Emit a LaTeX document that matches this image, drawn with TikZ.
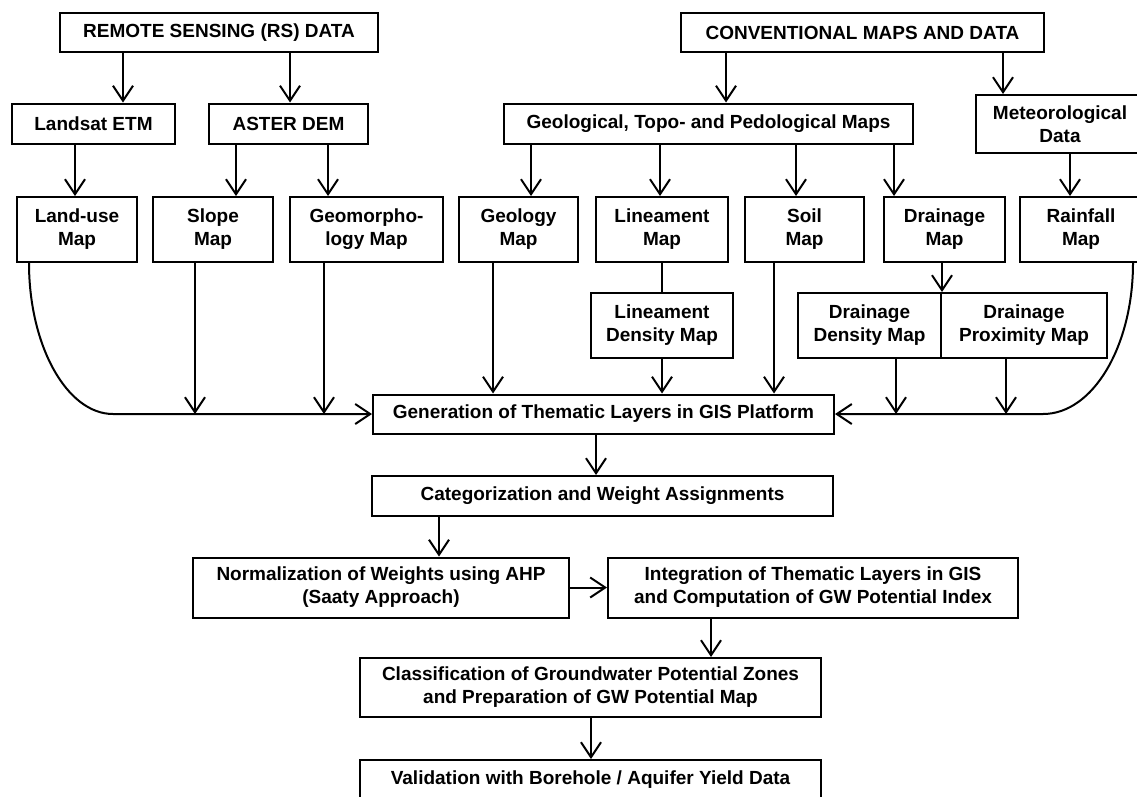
\documentclass[tikz,border=0pt]{standalone}
\usepackage{fontspec}
\setmainfont{Liberation Sans}
\usetikzlibrary{arrows.meta}
\begin{document}
\begin{tikzpicture}[x=1pt,y=-1pt,
  box/.style={draw, line width=2pt, inner sep=0pt, align=center,
    font=\fontsize{19}{23}\selectfont\bfseries},
  wh/.style 2 args={minimum width=#1pt, minimum height=#2pt},
  arr/.style={line width=2pt, -{Straight Barb[length=15pt,width=20pt]}},
  ln/.style={line width=2pt}]
\path[use as bounding box, fill=white] (0,0) rectangle (1137,796);
\clip (0,0) rectangle (1137,796);
% top row
\node[box, wh={318}{39}] (rs) at (219,32.5) {REMOTE SENSING (RS) DATA};
\node[box, wh={363}{39}] (conv) at (862.5,32.5) {CONVENTIONAL MAPS AND DATA};
% second row
\node[box, wh={163}{40}] (landsat) at (93.5,123.5) {Landsat ETM};
\node[box, wh={159}{40}] (aster) at (288.5,123.5) {ASTER DEM};
\node[box, wh={409}{40}] (geol) at (708.5,123.5) {Geological, Topo- and Pedological Maps};
\node[box, wh={168}{58}] (met) at (1060,124) {Meteorological\\Data};
% map row
\node[box, wh={120}{65}] (landuse) at (77,229.5) {Land-use\\Map};
\node[box, wh={120}{65}] (slope) at (213,229.5) {Slope\\Map};
\node[box, wh={153}{65}] (geomorph) at (366.5,229.5) {Geomorpho-\\logy Map};
\node[box, wh={119}{65}] (geology) at (518.5,229.5) {Geology\\Map};
\node[box, wh={132}{65}] (lineament) at (662,229.5) {Lineament\\Map};
\node[box, wh={119}{65}] (soil) at (804.5,229.5) {Soil\\Map};
\node[box, wh={121}{65}] (drainage) at (944.5,229.5) {Drainage\\Map};
\node[box, wh={122}{65}] (rainfall) at (1081,229.5) {Rainfall\\Map};
% derived maps
\node[box, wh={142}{65}] (lind) at (662,325.5) {Lineament\\Density Map};
\node[box, wh={143}{65}] (dd) at (869.5,325.5) {Drainage\\Density Map};
\node[box, wh={166}{65}] (dp) at (1024,325.5) {Drainage\\Proximity Map};
% lower chain
\node[box, wh={461}{39}] (gen) at (603.5,414) {Generation of Thematic Layers in GIS Platform};
\node[box, wh={461}{40}] (cat) at (602.5,496) {Categorization and Weight Assignments};
\node[box, wh={376}{60}] (norm) at (381,587.5) {Normalization of Weights using AHP\\(Saaty Approach)};
\node[box, wh={410}{60}] (integ) at (813,587.5) {Integration of Thematic Layers in GIS\\and Computation of GW Potential Index};
\node[box, wh={461}{59}] (class) at (590.5,687.5) {Classification of Groundwater Potential Zones\\and Preparation of GW Potential Map};
\node[box, wh={461}{40}] (valid) at (590.5,780) {Validation with Borehole / Aquifer Yield Data};
% connectors top
\draw[arr] (rs.south -| 123,0) -- (landsat.north -| 123,0);
\draw[arr] (rs.south -| 290,0) -- (aster.north -| 290,0);
\draw[arr] (landsat.south -| 75,0) -- (landuse.north -| 75,0);
\draw[arr] (aster.south -| 236,0) -- (slope.north -| 236,0);
\draw[arr] (aster.south -| 328,0) -- (geomorph.north -| 328,0);
\draw[arr] (conv.south -| 726,0) -- (geol.north -| 726,0);
\draw[arr] (conv.south -| 1003,0) -- (met.north -| 1003,0);
\draw[arr] (geol.south -| 531,0) -- (geology.north -| 531,0);
\draw[arr] (geol.south -| 660,0) -- (lineament.north -| 660,0);
\draw[arr] (geol.south -| 796,0) -- (soil.north -| 796,0);
\draw[arr] (geol.south -| 894,0) -- (drainage.north -| 894,0);
\draw[arr] (met.south -| 1070,0) -- (rainfall.north -| 1070,0);
% derived
\draw[ln] (lineament.south) -- (lind.north);
\draw[arr] (drainage.south -| dd.north east) -- (dd.north east);
% into generation
\draw[arr] (lind.south) -- (gen.north -| lind.south);
\draw[arr] (geology.south -| 493,0) -- (gen.north -| 493,0);
\draw[arr] (soil.south -| 774,0) -- (gen.north -| 774,0);
\draw[arr] (landuse.south -| 29,0) .. controls (29,346) and (67,414) .. (113,414) -- (gen.west);
\draw[arr] (slope.south -| 195,0) -- (gen.west -| 195,0);
\draw[arr] (geomorph.south -| 324,0) -- (gen.west -| 324,0);
\draw[arr] (rainfall.south -| 1133,0) .. controls (1133,346) and (1093,414) .. (1043,414) -- (gen.east);
\draw[arr] (dd.south -| 896,0) -- (gen.east -| 896,0);
\draw[arr] (dp.south -| 1006,0) -- (gen.east -| 1006,0);
% lower chain
\draw[arr] (gen.south -| 596,0) -- (cat.north -| 596,0);
\draw[arr] (cat.south -| 439,0) -- (norm.north -| 439,0);
\draw[arr] (norm.east) -- (integ.west);
\draw[arr] (integ.south -| 711,0) -- (class.north -| 711,0);
\draw[arr] (class.south -| 591,0) -- (valid.north -| 591,0);
\end{tikzpicture}
\end{document}
